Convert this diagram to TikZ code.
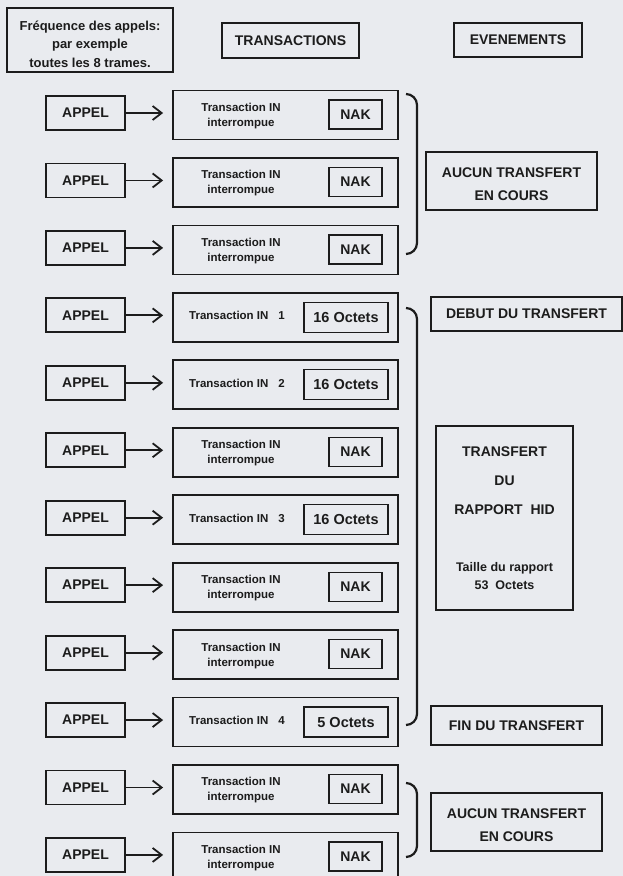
\documentclass[tikz,border=0pt]{standalone}
\usepackage{fontspec}
\setmainfont{Liberation Sans}
\usepackage{tikz}
\usetikzlibrary{arrows.meta}
\definecolor{paper}{RGB}{233, 235, 239}
\definecolor{ink}{RGB}{28, 28, 28}

\begin{document}
\begin{tikzpicture}[
   x=1pt, y=-1pt,
   appelbox/.style={rectangle, draw=ink, line width=1.8, text=ink, inner sep=0,
                    font=\fontsize{14}{16}\selectfont\bfseries, minimum width=79, minimum height=34},
   transbox/.style={rectangle, draw=ink, line width=1.8, inner sep=0,
                    minimum width=225, minimum height=49},
   transtext/.style={text=ink, inner sep=0, align=center,
                     font=\fontsize{11.5}{15}\selectfont\bfseries},
   nakbox/.style={rectangle, draw=ink, line width=1.3, text=ink, inner sep=0,
                  font=\fontsize{14}{16}\selectfont\bfseries, minimum width=53, minimum height=29},
   octbox/.style={rectangle, draw=ink, line width=1.3, text=ink, inner sep=0,
                  font=\fontsize{14.5}{16}\selectfont\bfseries, minimum width=84, minimum height=30},
   evtbox/.style={rectangle, draw=ink, line width=1.3, text=ink, inner sep=0, align=center,
                  font=\fontsize{14}{23}\selectfont\bfseries},
   evttext/.style={text=ink, inner sep=0, align=center, yshift=-3,
                   font=\fontsize{14}{23}\selectfont\bfseries},
   brace/.style={draw=ink, line width=2.2},
   flow/.style={-{Straight Barb[length=9pt, width=14pt]}, draw=ink, line width=1.8, shorten >=9pt}
  ]

  \useasboundingbox (0, 0) rectangle (623, 876);
  \fill[paper] (0, 0) rectangle (623, 876);

  % Row Spacing
  \pgfmathsetmacro{\d}{67.45}

  % Headers
  \node (freq) at (90, 40) [evtbox, minimum width=166, minimum height=64,
        label={[evttext, yshift=-1, font=\fontsize{13}{18.5}\selectfont\bfseries]center:Fréquence des appels:\\par exemple\\toutes les 8 trames.}] {};
  \node (transhead) at (290.5, 40.5) [evtbox, minimum width=137, minimum height=35] {TRANSACTIONS};
  \node (evthead) at (518, 40) [evtbox, minimum width=128, minimum height=34] {EVENEMENTS};

  % Calls and transactions
  \foreach \i/\res/\num in {1/NAK/0, 2/NAK/0, 3/NAK/0, 4/16 Octets/1, 5/16 Octets/2, 6/NAK/0,
                            7/16 Octets/3, 8/NAK/0, 9/NAK/0, 10/5 Octets/4, 11/NAK/0, 12/NAK/0} {
    \pgfmathsetmacro{\y}{113 + (\i - 1) * \d}
    \node (appel\i) at (85.5, \y) [appelbox] {APPEL};
    \node (trans\i) at (285.5, \y + 2) [transbox] {};
    \ifnum\num=0
      \node (txt\i) at (241, \y + 3) [transtext] {Transaction IN\\interrompue};
      \node (res\i) at (355.5, \y + 1.5) [nakbox] {\res};
    \else
      \node (txt\i) at (189, \y + 0.5) [transtext, anchor=west] {Transaction IN\hspace{10pt}\num};
      \node (res\i) at (346, \y + 2) [octbox] {\res};
    \fi
    \draw[flow] (appel\i) -- (appel\i -| trans\i.west);
  }

  % Brackets
  \foreach \t/\b in {94/254, 308/725, 783/857} {
    \draw[brace] (406, \t) to[out=0, in=90] (417, \t + 11) -- (417, \b - 11) to[out=-90, in=0] (406, \b);
  }

  % Events
  \node (aucun1) at (511.5, 181) [evtbox, minimum width=171, minimum height=58,
        label={[evttext]center:AUCUN TRANSFERT\\EN COURS}] {};
  \node (debut) at (526.5, 314) [evtbox, minimum width=191, minimum height=34] {DEBUT DU TRANSFERT};
  \node (hid) at (504.5, 518) [evtbox, minimum width=137, minimum height=184,
        font=\fontsize{14}{29}\selectfont\bfseries]
        {TRANSFERT\\DU\\RAPPORT~~HID\\[28pt]\fontsize{12.5}{18}\selectfont Taille du rapport\\[-11pt]\fontsize{12.5}{18}\selectfont 53~~Octets};
  \node (fin) at (516.5, 725.5) [evtbox, minimum width=171, minimum height=39] {FIN DU TRANSFERT};
  \node (aucun2) at (516.5, 822) [evtbox, minimum width=171, minimum height=58,
        label={[evttext]center:AUCUN TRANSFERT\\EN COURS}] {};

\end{tikzpicture}
\end{document}
